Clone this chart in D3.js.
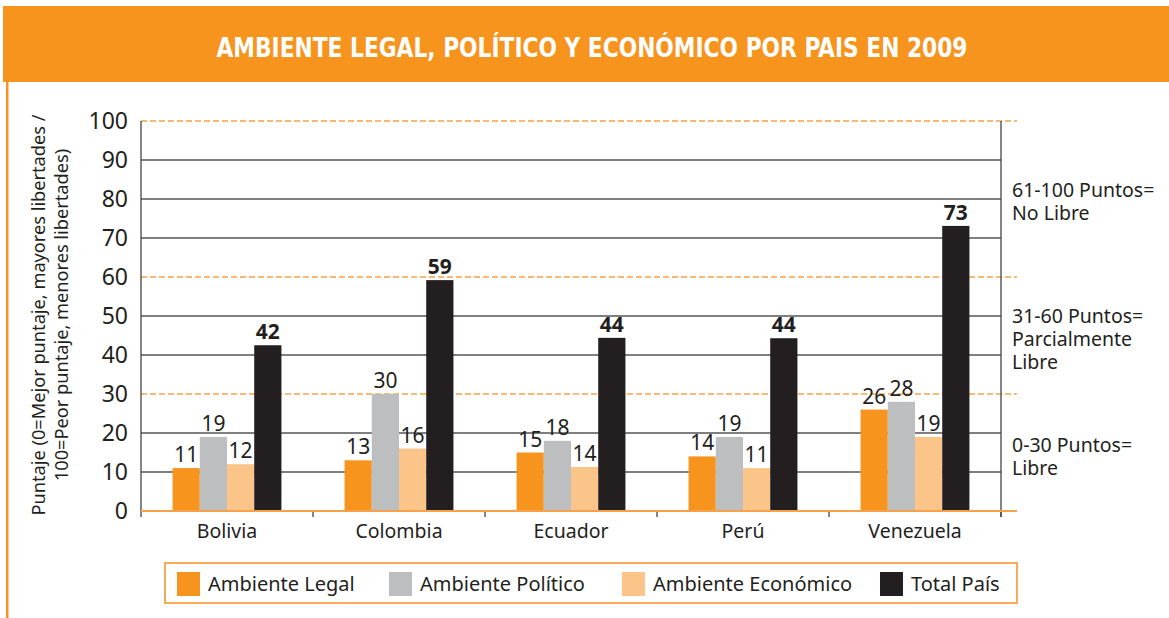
<!DOCTYPE html>
<html>
<head>
<meta charset="utf-8">
<script src="https://cdn.jsdelivr.net/npm/d3@7"></script>
<style>
  body { margin: 0; background: #fff; }
  svg { display: block; }
  text { font-family: "Noto Sans", "Open Sans", sans-serif; fill: #231f20; }
</style>
</head>
<body>
<svg id="canvas"></svg>
<script>
// data
let paises = ['Bolivia', 'Colombia', 'Ecuador', 'Perú', 'Venezuela']
let series = ['Ambiente Legal', 'Ambiente Político', 'Ambiente Económico', 'Total País']
let legal = [11, 13, 15, 14, 26]
let politico = [19, 30, 18, 19, 28]
let economico = [12, 16, 11.3, 11, 19]
let economicoEtiqueta = [12, 16, 14, 11, 19]   // label printed in the source differs for Ecuador
let total = [42.5, 59.2, 44.4, 44.3, 73.1]
let totalEtiqueta = [42, 59, 44, 44, 73]
let yTicks = [0, 10, 20, 30, 40, 50, 60, 70, 80, 90, 100]
let umbrales = [30, 60, 100]
let rangos = [
  {lines: ['61-100 Puntos=', 'No Libre'], y: 197},
  {lines: ['31-60 Puntos=', 'Parcialmente', 'Libre'], y: 323},
  {lines: ['0-30 Puntos=', 'Libre'], y: 452}
]

let colores = ['#f7941d', '#bcbec0', '#fbc58a', '#231f20']

const W = 1169
const H = 618

let svg = d3.select('#canvas').attr('width', W).attr('height', H)

// header band
svg.append('rect').attr('x', 3).attr('y', 6).attr('width', W - 3).attr('height', 76).attr('fill', '#f7941d')
svg.append('rect').attr('x', 6).attr('y', 82).attr('width', 2.5).attr('height', H - 82).attr('fill', '#f7941d')
svg.append('text')
  .attr('x', 592).attr('y', 57)
  .attr('text-anchor', 'middle')
  .attr('textLength', 751).attr('lengthAdjust', 'spacingAndGlyphs')
  .style('font-family', '"DejaVu Sans Condensed", "DejaVu Sans", sans-serif')
  .style('font-weight', 'bold')
  .style('font-size', '27px')
  .style('fill', '#fff')
  .text('AMBIENTE LEGAL, POLÍTICO Y ECONÓMICO POR PAIS EN 2009')

const pLeft = 141, pRight = 1001, pTop = 121, pBottom = 511

let x = d3.scaleBand().domain(paises).range([pLeft, pRight])
let xs = d3.scaleBand().domain(series).range([0, x.bandwidth()]).paddingOuter(1.16)
let y = d3.scaleLinear().domain([0, 100]).range([pBottom, pTop])

// gridlines
yTicks.filter(t => t > 0).forEach(t => {
  let dashed = umbrales.includes(t)
  svg.append('line')
    .attr('x1', pLeft).attr('x2', dashed ? 1017 : pRight)
    .attr('y1', y(t)).attr('y2', y(t))
    .attr('stroke', dashed ? '#f7a24a' : '#555')
    .attr('stroke-width', dashed ? 1.5 : 1.6)
    .attr('stroke-dasharray', dashed ? '6,3' : null)
})

// axes
svg.append('line').attr('x1', pLeft).attr('x2', pLeft).attr('y1', pTop).attr('y2', pBottom + 6)
  .attr('stroke', '#444').attr('stroke-width', 1.3)
svg.append('line').attr('x1', pRight).attr('x2', pRight).attr('y1', pTop).attr('y2', pBottom + 6)
  .attr('stroke', '#444').attr('stroke-width', 1.3)

let yAxis = svg.append('g').attr('transform', 'translate(' + pLeft + ',0)')
  .call(d3.axisLeft(y).tickValues(yTicks).tickSize(0).tickPadding(13))
yAxis.select('.domain').remove()
yAxis.selectAll('text').style('font-size', '23px').style('font-family', '"Noto Sans", sans-serif').attr('fill', '#231f20').attr('dy', '0.34em')

let xAxis = svg.append('g').attr('transform', 'translate(0,' + pBottom + ')')
  .call(d3.axisBottom(x).tickSize(0).tickPadding(10))
xAxis.select('.domain').remove()
xAxis.selectAll('text').style('font-size', '19.5px').style('font-family', '"Noto Sans", sans-serif').attr('fill', '#231f20').attr('dy', '0.85em')

// category separators
paises.forEach(p => {
  svg.append('line').attr('x1', x(p) + x.bandwidth()).attr('x2', x(p) + x.bandwidth())
    .attr('y1', pBottom).attr('y2', pBottom + 6).attr('stroke', '#444').attr('stroke-width', 1.3)
})

// bars
let valores = [legal, politico, economico, total]
let etiquetas = [legal, politico, economicoEtiqueta, totalEtiqueta]

series.forEach((s, si) => {
  let g = svg.append('g')
  paises.forEach((p, pi) => {
    let v = valores[si][pi]
    let bx = x(p) + xs(s)
    g.append('rect')
      .attr('x', bx).attr('y', y(v))
      .attr('width', xs.bandwidth()).attr('height', y(0) - y(v))
      .attr('fill', colores[si])
    g.append('text')
      .attr('x', bx + xs.bandwidth() / 2)
      .attr('y', y(v) - 6)
      .attr('text-anchor', 'middle')
      .style('font-size', '21px')
      .style('font-weight', si === 3 ? 'bold' : 'normal')
      .text(etiquetas[si][pi])
  })
})

// zero line
svg.append('line').attr('x1', pLeft).attr('x2', 1017).attr('y1', y(0)).attr('y2', y(0))
  .attr('stroke', '#f7a24a').attr('stroke-width', 2)

// y title
let yt = svg.append('text')
  .attr('transform', 'translate(45,315) rotate(-90)')
  .attr('text-anchor', 'middle')
  .style('font-size', '18.2px')
yt.append('tspan').attr('x', 0).attr('y', 0).text('Puntaje (0=Mejor puntaje, mayores libertades /')
yt.append('tspan').attr('x', 0).attr('y', 23).text('100=Peor puntaje, menores libertades)')

// range notes
rangos.forEach(r => {
  let t = svg.append('text').attr('x', 1012).attr('y', r.y).style('font-size', '19.5px')
  r.lines.forEach((l, i) => {
    t.append('tspan').attr('x', 1012).attr('y', r.y + i * 23).text(l)
  })
})

// legend
svg.append('rect').attr('x', 165).attr('y', 563).attr('width', 852).attr('height', 40)
  .attr('fill', 'none').attr('stroke', '#f7a24a').attr('stroke-width', 1.8)
let legX = [177, 389, 622, 880]
series.forEach((s, i) => {
  svg.append('rect').attr('x', legX[i]).attr('y', 572).attr('width', 23).attr('height', 24).attr('fill', colores[i])
  svg.append('text').attr('x', legX[i] + 31).attr('y', 591).style('font-size', '20px').text(s)
})
</script>
</body>
</html>
